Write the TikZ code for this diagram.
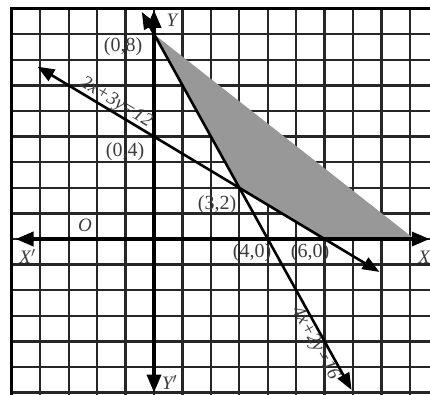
\documentclass[tikz,border=0pt]{standalone}
\usepackage{fontspec}
\setmainfont{Liberation Serif}
\usetikzlibrary{arrows.meta}
\definecolor{regiongray}{RGB}{152,152,152}
\definecolor{labelgray}{RGB}{60,60,60}
\begin{document}
\begin{tikzpicture}[x=28.43pt,y=25.6pt,
  gridline/.style={line width=2.4pt,black!85},
  bigtip/.tip={Triangle[length=18pt,width=14pt]},
  contip/.tip={Triangle[length=17pt,width=13pt]},
  axisline/.style={line width=3.6pt,black,bigtip-bigtip},
  conline/.style={line width=2.6pt,black,contip-contip},
  ptlabel/.style={font=\fontsize{20}{20}\selectfont,text=labelgray,inner sep=0pt},
  eqlabel/.style={font=\itshape\fontsize{19}{19}\selectfont,text=labelgray,inner sep=1pt},
  axlabel/.style={font=\itshape\fontsize{19}{19}\selectfont,text=labelgray,inner sep=0pt}]
\useasboundingbox (-5.417,-6.055) rectangle (9.708,9.336);
\fill[white] (-5.417,-6.055) rectangle (9.708,9.336);
\clip (-5.417,-6.055) rectangle (9.708,9.336);
% grid
\foreach \i in {-4,...,9} \draw[gridline] (\i,-6.2) -- (\i,9);
\foreach \j in {-6,...,8} \draw[gridline] (-5,\j) -- (9.9,\j);
\draw[line width=3pt,line cap=rect] (-5,-6.2) -- (-5,9) -- (9.9,9);
% key points
\coordinate (p08) at (0,8);
\coordinate (p32) at (3,2);
\coordinate (p60) at (6,0);
\coordinate (pend) at (9.16,0);
% feasible region
\fill[fill=regiongray] (p08) -- (p32) -- (p60) -- (pend) -- cycle;
% axes
\coordinate (xl) at (-4.87,0);
\coordinate (xr) at (9.70,0);
\coordinate (yt) at (0,8.95);
\coordinate (yb) at (0,-6.0);
\draw[axisline] (xl) -- (xr);
\draw[axisline] (yb) -- (yt);
% constraint lines
\coordinate (aA) at (-0.43,8.87);
\coordinate (aB) at (6.95,-5.9);
\coordinate (bA) at (-4.1,6.733);
\coordinate (bB) at (7.93,-1.287);
\draw[conline] (aA) -- (aB);
\draw[conline] (bA) -- (bB);
% equation labels along the lines
\path (bA) -- (bB) node[eqlabel,sloped,pos=0.215,anchor=south] (e1) {2x+3y=12};
\path (aA) -- (aB) node[eqlabel,sloped,pos=0.865,anchor=north] (e2) {4x+2y=16};
% labels
\node[axlabel] (lY) at (0.63,8.55) {Y};
\node[axlabel] (lYp) at (0.55,-5.6) {Y$'$};
\node[axlabel] (lXp) at (-4.45,-0.68) {X$'$};
\node[axlabel] (lX) at (9.5,-0.7) {X};
\node[axlabel] (lO) at (-2.43,0.55) {O};
\node[ptlabel] (l08) at (-1.09,7.5) {(0,8)};
\node[ptlabel] (l04) at (-1.02,3.4) {(0,4)};
\node[ptlabel] (l32) at (2.22,1.33) {(3,2)};
\node[ptlabel] (l40) at (3.45,-0.55) {(4,0)};
\node[ptlabel] (l60) at (5.49,-0.55) {(6,0)};
\end{tikzpicture}
\end{document}
